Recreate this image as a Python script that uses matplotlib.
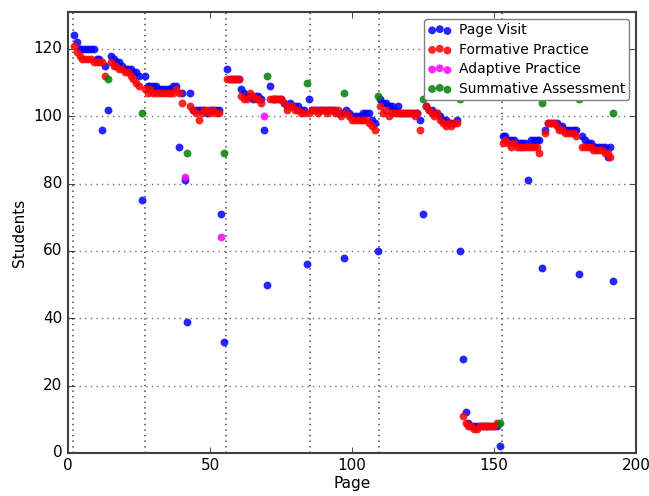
import numpy as np
import matplotlib
matplotlib.use("Agg")
import matplotlib.pyplot as plt

nan = np.nan

# ── Data ──────────────────────────────────────────────────────────────────────
pages = list(range(2, 193))

visit_a = [124, 122, 120, 120, 120, 120, 120, 120, 117, 117, 96, 115, 102, 118, 117,
           116, 116, 115, 114, 114, 114, 113, 113, 112, 75]
visit_b = [112, 109, 109, 109, 109, 108, 108, 108, 108, 108, 109, 109, 91, 107, 81,
           39, 107, 102, 102, 102, 102, 102, 101, 102, 102, 102, 102, 71, 33]
visit_c = [114, 111, 111, 111, 111, 108, 107, 106, 106, 105, 106, 106, 105, 96, 50,
           109, 105, 105, 105, 105, 104, 103, 104, 103, 103, 103, 102, 102, 56]
visit_d = [105, 102, 102, 102, 102, 102, 102, 102, 102, 102, 101, 101, 58, 102, 101,
           100, 100, 100, 100, 101, 101, 101, 99, 98, 60]
visit_e = [105, 104, 104, 103, 103, 102, 103, 101, 101, 101, 101, 101, 101, 101, 99,
           71, 103, 102, 102, 101, 101, 100, 99, 99, 98, 98, 98, 99, 60, 28,
           12, 9, 8, 8, 8, 8, 8, 8, 8, 8, 8, 8, 2]
visit_f = [94, 94, 93, 93, 93, 92, 92, 92, 92, 81, 93, 93, 93, 93, 55,
           96, 98, 98, 98, 98, 97, 97, 96, 96, 96, 96, 96, 53, 94, 93,
           92, 92, 91, 91, 91, 91, 91, 88, 91, 51]

form_a = [121, 119, 118, 117, 117, 117, 117, 116, 116, 116, 116, 112, nan, 116, 115,
          115, 114, 114, 113, 113, 112, 111, 110, 109, nan]
form_b = [108, 107, 108, 107, 107, 107, 107, 107, 107, 107, 107, 108, 107, 104, nan,
          nan, 103, 102, 101, 99, 101, 102, 102, 101, 102, 101, 101, nan, nan]
form_c = [111, 111, 111, 111, 111, 106, 105, 105, 107, 106, 105, 105, 104, nan, nan,
          105, 105, 105, 105, 105, 104, 102, 103, 103, 102, 102, 101, 101, nan]
form_d = [101, 102, 102, 101, 102, 102, 101, 102, 102, 101, 102, 100, nan, 101, 100,
          99, 99, 99, 99, 99, 99, 98, 97, 96, nan]
form_e = [103, 101, 102, 100, 101, 101, 101, 101, 101, 101, 101, 101, 100, 101, 96,
          nan, 103, 102, 101, 100, 101, 99, 98, 97, 98, 97, 98, 98, nan, 11,
          9, 8, 8, 7, 7, 8, 8, 8, 8, 8, 8, 9, nan]
form_f = [92, 93, 92, 91, 92, 91, 91, 91, 91, 91, 91, 91, 91, 89, nan,
          95, 98, 98, 98, 97, 96, 96, 95, 95, 95, 95, 94, nan, 91, 91,
          91, 91, 90, 90, 90, 90, 89, 89, 88, nan]

visit = visit_a + visit_b + visit_c + visit_d + visit_e + visit_f
formative = form_a + form_b + form_c + form_d + form_e + form_f

adaptive_pages = [41, 54, 69]
adaptive = [82, 64, 100]

summative_pages = [14, 26, 42, 55, 70, 84, 97, 109, 125, 138, 152, 167, 180, 192]
summative = [111, 101, 89, 89, 112, 110, 107, 106, 105, 105, 9, 104, 105, 101]

section_breaks = [1.6, 26.9, 55.5, 85.1, 109.6, 152.9]

# ── Plot ──────────────────────────────────────────────────────────────────────
plt.style.use("classic")
plt.rcParams["font.size"] = 11

fig = plt.figure(figsize=(6.49, 4.96), facecolor="white")
ax = fig.add_axes([0.105, 0.087, 0.875, 0.889])

kw = dict(s=32, alpha=0.85, linewidths=0)
ax.scatter(pages, visit, color="blue", label="Page Visit", **kw)
ax.scatter(pages, formative, color="red", label="Formative Practice", **kw)
ax.scatter(adaptive_pages, adaptive, color="magenta", label="Adaptive Practice", **kw)
ax.scatter(summative_pages, summative, color="green", label="Summative Assessment", **kw)

for xb in section_breaks:
    ax.axvline(xb, color="0.3", ls=":", lw=1.2, zorder=0)

ax.set_xlim(0, 200)
ax.set_ylim(0, 131)
ax.set_xticks([0, 50, 100, 150, 200])
ax.set_yticks([0, 20, 40, 60, 80, 100, 120])
ax.yaxis.grid(True, color="0.45", ls=":", lw=1)
ax.set_axisbelow(True)
for sp in ax.spines.values():
    sp.set_color("0.25")
    sp.set_linewidth(1.5)
ax.tick_params(labelsize=11)

ax.set_xlabel("Page", fontsize=11, labelpad=2)
ax.set_ylabel("Students", fontsize=11)

leg = ax.legend(loc="upper right", scatterpoints=3, fontsize=10, fancybox=True,
                borderaxespad=0.5, handlelength=1.7, handletextpad=0.5,
                labelspacing=0.4, borderpad=0.3)
leg.get_frame().set_edgecolor("0.5")

fig.savefig("out.png", dpi=100, facecolor="white")
